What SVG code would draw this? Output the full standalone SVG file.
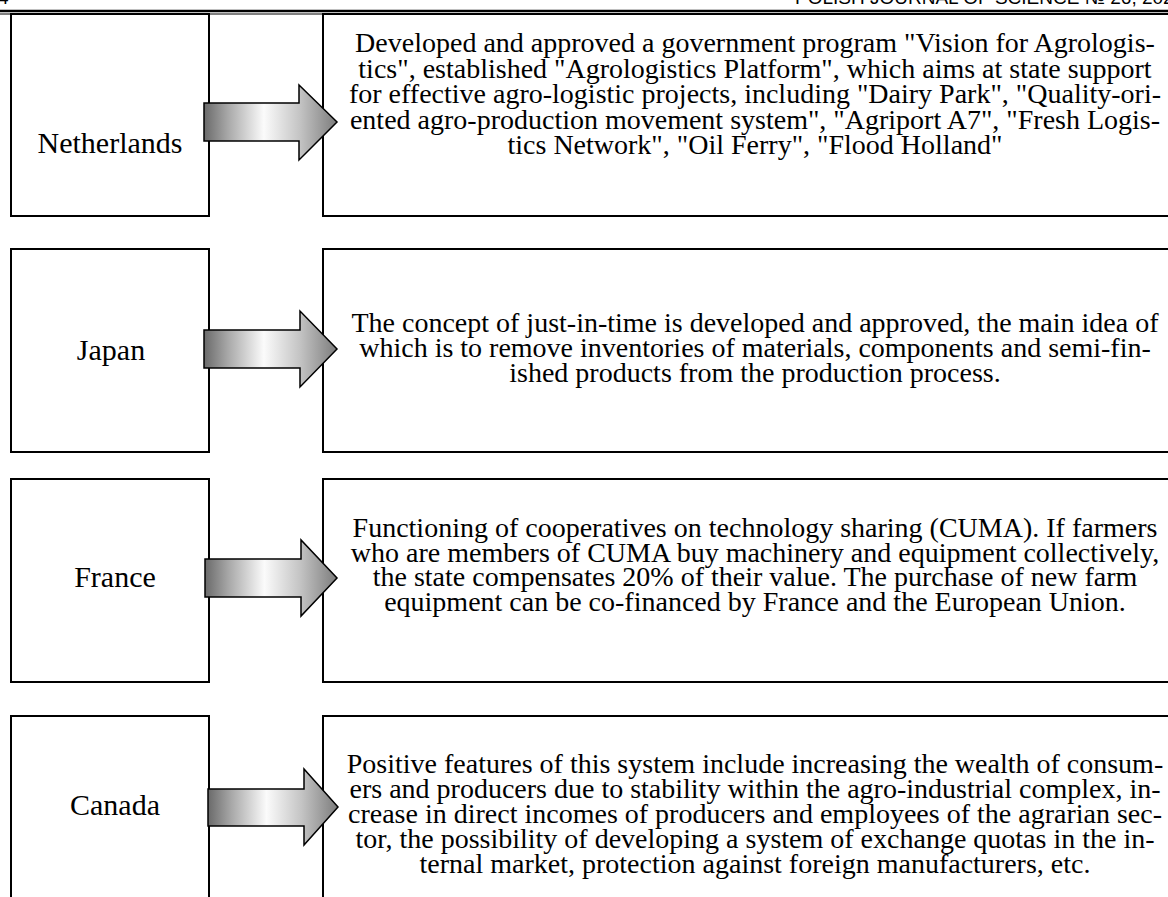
<svg xmlns="http://www.w3.org/2000/svg" width="1168" height="897" viewBox="0 0 1168 897">
<defs>
<linearGradient id="arrowGrad" x1="0" y1="0" x2="1" y2="0">
<stop offset="0" stop-color="#6a6a6a"/>
<stop offset="0.18" stop-color="#a8a8a8"/>
<stop offset="0.45" stop-color="#fbfbfb"/>
<stop offset="0.72" stop-color="#c4c4c4"/>
<stop offset="1" stop-color="#7c7c7c"/>
</linearGradient>
<style>
.box{fill:#fff;stroke:#000;stroke-width:2}
.arrow{fill:url(#arrowGrad);stroke:#000;stroke-width:1.5;stroke-linejoin:miter}
.lbl{font-family:"Liberation Serif","Times New Roman",serif;font-size:30px;fill:#000;text-anchor:middle}
.txt{font-family:"Liberation Serif","Times New Roman",serif;font-size:28px;fill:#000;text-anchor:middle}
.hdr{font-family:"Liberation Sans",Arial,sans-serif;font-size:19px;fill:#000}
</style>
</defs>
<rect width="1168" height="897" fill="#fff"/>
<g id="header">
<text class="hdr" x="-2" y="4">4</text>
<text class="hdr" x="795" y="4">POLISH JOURNAL OF SCIENCE № 26, 2020</text>
<line x1="0" y1="11" x2="1168" y2="11" stroke="#000" stroke-width="2.5"/>
<line x1="0" y1="14" x2="1168" y2="14" stroke="#000" stroke-width="1"/>
</g>
<g id="node-netherlands">
<rect class="box" x="11" y="14" width="198" height="202"/>
<text class="lbl" x="110" y="153">Netherlands</text>
</g>
<g id="node-netherlands-desc">
<rect class="box" x="323" y="14" width="870" height="202"/>
<text class="txt"><tspan x="755" y="52">Developed and approved a government program "Vision for Agrologis-</tspan><tspan x="755" y="77.5">tics", established "Agrologistics Platform", which aims at state support</tspan><tspan x="755" y="103">for effective agro-logistic projects, including "Dairy Park", "Quality-ori-</tspan><tspan x="755" y="128.5">ented agro-production movement system", "Agriport A7", "Fresh Logis-</tspan><tspan x="755" y="154">tics Network", "Oil Ferry", "Flood Holland"</tspan></text>
</g>
<g id="node-japan">
<rect class="box" x="11" y="249" width="198" height="203"/>
<text class="lbl" x="111" y="360">Japan</text>
</g>
<g id="node-japan-desc">
<rect class="box" x="323" y="249" width="870" height="203"/>
<text class="txt"><tspan x="755" y="332">The concept of just-in-time is developed and approved, the main idea of</tspan><tspan x="755" y="357">which is to remove inventories of materials, components and semi-fin-</tspan><tspan x="755" y="382">ished products from the production process.</tspan></text>
</g>
<g id="node-france">
<rect class="box" x="11" y="479" width="198" height="203"/>
<text class="lbl" x="115" y="587">France</text>
</g>
<g id="node-france-desc">
<rect class="box" x="323" y="479" width="870" height="203"/>
<text class="txt"><tspan x="755" y="537">Functioning of cooperatives on technology sharing (CUMA). If farmers</tspan><tspan x="755" y="562">who are members of CUMA buy machinery and equipment collectively,</tspan><tspan x="755" y="586">the state compensates 20% of their value. The purchase of new farm</tspan><tspan x="755" y="611">equipment can be co-financed by France and the European Union.</tspan></text>
</g>
<g id="node-canada">
<rect class="box" x="11" y="716" width="198" height="203"/>
<text class="lbl" x="115" y="815">Canada</text>
</g>
<g id="node-canada-desc">
<rect class="box" x="323" y="716" width="870" height="203"/>
<text class="txt"><tspan x="755" y="773">Positive features of this system include increasing the wealth of consum-</tspan><tspan x="755" y="798">ers and producers due to stability within the agro-industrial complex, in-</tspan><tspan x="755" y="823">crease in direct incomes of producers and employees of the agrarian sec-</tspan><tspan x="755" y="848">tor, the possibility of developing a system of exchange quotas in the in-</tspan><tspan x="755" y="873">ternal market, protection against foreign manufacturers, etc.</tspan></text>
</g>
<g id="connectors">
<polygon class="arrow" points="204,103 299,103 299,85 337,122 299,160 299,141 204,141"/>
<polygon class="arrow" points="204,330 300,330 300,311 337,349 300,387 300,368 204,368"/>
<polygon class="arrow" points="205,559 301,559 301,540 337,578 301,616 301,597 205,597"/>
<polygon class="arrow" points="208,789 304,789 304,769 338,807 304,845 304,826 208,826"/>
</g>
</svg>
